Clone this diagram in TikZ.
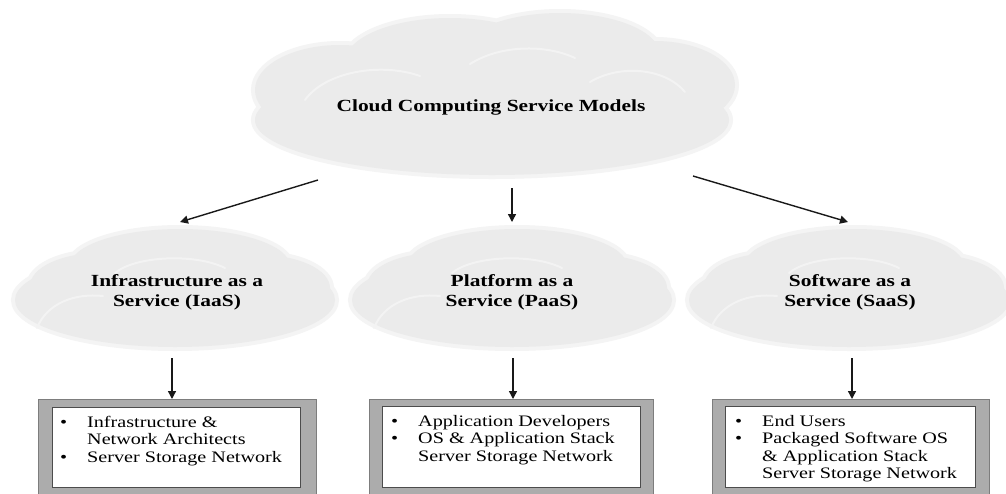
\documentclass[tikz,border=0pt]{standalone}
\usepackage{fontspec}
\setmainfont{Liberation Serif}[FakeStretch=1.26]
\usetikzlibrary{arrows.meta}
\definecolor{cloudfill}{RGB}{235,235,235}
\definecolor{cloudedge}{RGB}{244,244,244}
\definecolor{cloudarc}{RGB}{243,243,243}
\definecolor{bandgray}{RGB}{172,172,172}
\definecolor{bandedge}{RGB}{125,125,125}
\newcommand\bigcloudshape{(492,120) ellipse [x radius=237pt,y radius=55pt]
  (340,90) ellipse [x radius=85pt,y radius=45pt]
  (450,62) ellipse [x radius=105pt,y radius=44pt]
  (560,55) ellipse [x radius=100pt,y radius=42pt]
  (655,85) ellipse [x radius=80pt,y radius=44pt]}
\newcommand\smallcloudshape{(0,12) ellipse [x radius=160pt,y radius=47pt]
  (5,-22) ellipse [x radius=110pt,y radius=37pt]
  (-75,-2) ellipse [x radius=70pt,y radius=33pt]
  (85,0) ellipse [x radius=70pt,y radius=33pt]}
\tikzset{
  cloudlabel/.style={font=\bfseries\fontsize{17}{20}\selectfont, align=center, inner sep=0pt, text=black},
  boxtext/.style={font=\fontsize{16}{17.5}\selectfont, inner sep=0pt, anchor=base west, text=black},
  arrowline/.style={-{Triangle[length=8pt,width=8pt]}, line width=1.4pt, black!90},
  outerband/.style={fill=bandgray, draw=bandedge, line width=0.8pt},
  innerbox/.style={fill=white, draw=black!70, line width=1.2pt},
  fuzz/.style={fill=cloudedge, draw=cloudedge, line width=8pt},
  softarc/.style={draw=cloudarc, line width=2pt, line cap=round}
}
\newcommand\bul{\makebox[27pt][l]{\textbullet}}
\begin{document}
\begin{tikzpicture}[x=1pt,y=-1pt]
\useasboundingbox (0,0) rectangle (1006,493);
\clip (0,0) rectangle (1006,493);
\fill[white] (0,0) rectangle (1006,493);

% big cloud
\path[fuzz] \bigcloudshape;
\path[fill=cloudfill] \bigcloudshape;
\draw[softarc] (305,100) .. controls (325,72) and (380,62) .. (420,76);
\draw[softarc] (470,64) .. controls (500,45) and (545,44) .. (575,58);
\draw[softarc] (590,82) .. controls (620,64) and (665,68) .. (685,92);

% small clouds
\foreach \cx in {175,512,849}{
  \begin{scope}[shift={(\cx,288)}]
    \path[fuzz] \smallcloudshape;
    \path[fill=cloudfill] \smallcloudshape;
    \draw[softarc] (-138,40) .. controls (-128,15) and (-100,5) .. (-72,8);
    \draw[softarc] (-60,-15) .. controls (-40,-32) and (20,-35) .. (50,-20);
  \end{scope}
}

% labels
\node[cloudlabel, anchor=base] (top) at (491,111) {Cloud Computing Service Models};
\node[cloudlabel] (iaas) at (177,292) {Infrastructure as a\\Service (IaaS)};
\node[cloudlabel] (paas) at (512,292) {Platform as a\\Service (PaaS)};
\node[cloudlabel] (saas) at (850,292) {Software as a\\Service (SaaS)};

% boxes
\node[outerband, minimum width=278pt, minimum height=101pt, anchor=north west, inner sep=0pt] (b1) at (38,399) {};
\node[innerbox, minimum width=248pt, minimum height=80pt, anchor=north west, inner sep=0pt] (i1) at (52,407) {};
\node[outerband, minimum width=284pt, minimum height=101pt, anchor=north west, inner sep=0pt] (b2) at (369,399) {};
\node[innerbox, minimum width=258pt, minimum height=81pt, anchor=north west, inner sep=0pt] (i2) at (382,406) {};
\node[outerband, minimum width=277pt, minimum height=101pt, anchor=north west, inner sep=0pt] (b3) at (712,399) {};
\node[innerbox, minimum width=250pt, minimum height=81pt, anchor=north west, inner sep=0pt] (i3) at (725,406) {};

\node[boxtext] (t1) at (60,427) {\begin{tabular}[t]{@{}l@{}l@{}}
\bul & Infrastructure \& \\ & Network Architects\\ \bul & Server Storage Network\end{tabular}};
\node[boxtext] (t2) at (391,426) {\begin{tabular}[t]{@{}l@{}l@{}}
\bul & Application Developers\\ \bul & OS \& Application Stack\\ & Server Storage Network\end{tabular}};
\node[boxtext] (t3) at (735,426) {\begin{tabular}[t]{@{}l@{}l@{}}
\bul & End Users\\ \bul & Packaged Software OS\\ & \& Application Stack\\ & Server Storage Network\end{tabular}};

% connector end points
\coordinate (s1) at (318,180);
\coordinate (e1) at (180,222);
\coordinate (s2) at (512,188);
\coordinate (e2) at (512,222);
\coordinate (s3) at (693,176);
\coordinate (e3) at (848,222);
\coordinate (u1) at (172,358);
\coordinate (v1) at (172,399);
\coordinate (u2) at (513,358);
\coordinate (v2) at (513,399);
\coordinate (u3) at (852,358);
\coordinate (v3) at (852,399);

\draw[arrowline] (s1) -- (e1);
\draw[arrowline] (s2) -- (e2);
\draw[arrowline] (s3) -- (e3);
\draw[arrowline] (u1) -- (v1);
\draw[arrowline] (u2) -- (v2);
\draw[arrowline] (u3) -- (v3);
\end{tikzpicture}
\end{document}
